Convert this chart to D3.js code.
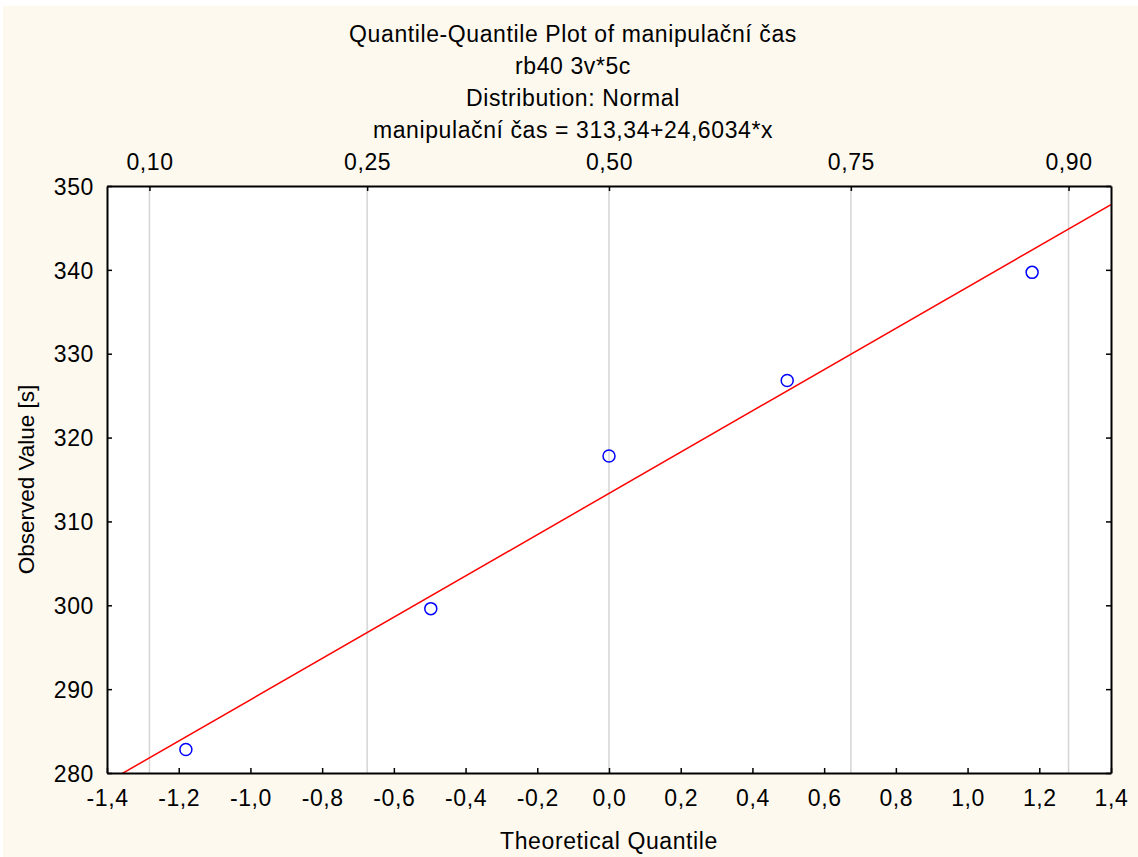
<!DOCTYPE html>
<html>
<head>
<meta charset="utf-8">
<script src="https://cdn.jsdelivr.net/npm/d3@7"></script>
<style>
  html, body { margin: 0; padding: 0; background: #fff; }
  svg { display: block; font-family: "Liberation Sans", Arial, sans-serif; }
</style>
</head>
<body>
<svg id="chart" width="1138" height="857"></svg>
<script>
// data
const titleLines = [
  "Quantile-Quantile Plot of manipulační čas",
  "rb40 3v*5c",
  "Distribution: Normal",
  "manipulační čas = 313,34+24,6034*x"
];
const theoretical = [-1.18, -0.497, 0, 0.497, 1.18];
const observed = [282.8, 299.6, 317.8, 326.8, 339.7];
const fitIntercept = 313.34;
const fitSlope = 24.6034;
const xTicks = [-1.4, -1.2, -1.0, -0.8, -0.6, -0.4, -0.2, 0.0, 0.2, 0.4, 0.6, 0.8, 1.0, 1.2, 1.4];
const yTicks = [280, 290, 300, 310, 320, 330, 340, 350];
const probTicks = [0.10, 0.25, 0.50, 0.75, 0.90];
const probQuantiles = [-1.2816, -0.6745, 0, 0.6745, 1.2816];

const svg = d3.select('#chart');
const W = 1138, H = 857;
const m = { left: 107, right: 1111, top: 186, bottom: 773 };
// comma decimals, plain hyphen for minus
const fmt = p => d => d3.format(p)(d).replace('.', ',').replace('\u2212', '-');
const fs = '23px';
const ls = '0.6px';

svg.append('rect')
  .attr('x', 3).attr('y', 6)
  .attr('width', W - 3).attr('height', H - 6)
  .attr('fill', '#fdf9ef');

const x = d3.scaleLinear().domain([-1.4, 1.4]).range([m.left, m.right]);
const y = d3.scaleLinear().domain([280, 350]).range([m.bottom, m.top]);

// plot area
svg.append('rect')
  .attr('x', m.left).attr('y', m.top)
  .attr('width', m.right - m.left).attr('height', m.bottom - m.top)
  .attr('fill', '#fff');

// grid at probability quantiles
svg.append('g').selectAll('line')
  .data(probQuantiles)
  .join('line')
  .attr('x1', d => x(d)).attr('x2', d => x(d))
  .attr('y1', m.top).attr('y2', m.bottom)
  .attr('stroke', '#d4d4d4').attr('stroke-width', 1.5);

svg.append('defs').append('clipPath').attr('id', 'clip')
  .append('rect')
  .attr('x', m.left).attr('y', m.top)
  .attr('width', m.right - m.left).attr('height', m.bottom - m.top);

// fitted line
const lineX = x.domain();
svg.append('line')
  .attr('clip-path', 'url(#clip)')
  .attr('x1', x(lineX[0])).attr('y1', y(fitIntercept + fitSlope * lineX[0]))
  .attr('x2', x(lineX[1])).attr('y2', y(fitIntercept + fitSlope * lineX[1]))
  .attr('stroke', '#ff0000').attr('stroke-width', 1.5);

// points
svg.append('g').selectAll('circle')
  .data(theoretical.map((t, i) => [t, observed[i]]))
  .join('circle')
  .attr('cx', d => x(d[0])).attr('cy', d => y(d[1]))
  .attr('r', 6)
  .attr('fill', 'none')
  .attr('stroke', '#0000ff').attr('stroke-width', 1.5);

// axes
const xAxis = d3.axisBottom(x).tickValues(xTicks).tickSizeInner(-5).tickSizeOuter(0)
  .tickPadding(17).tickFormat(fmt('.1f'));
const gx = svg.append('g').attr('transform', `translate(0,${m.bottom})`).call(xAxis);

const yAxis = d3.axisLeft(y).tickValues(yTicks).tickSizeInner(-5).tickSizeOuter(0)
  .tickPadding(13).tickFormat(d3.format('d'));
const gy = svg.append('g').attr('transform', `translate(${m.left},0)`).call(yAxis);

const yAxisR = d3.axisRight(y).tickValues(yTicks).tickSizeInner(-5).tickSizeOuter(0).tickFormat('');
const gyr = svg.append('g').attr('transform', `translate(${m.right},0)`).call(yAxisR);

const topAxis = d3.axisTop(x).tickValues(probQuantiles).tickSizeInner(-5).tickSizeOuter(0)
  .tickPadding(16).tickFormat((d, i) => fmt('.2f')(probTicks[i]));
const gt = svg.append('g').attr('transform', `translate(0,${m.top})`).call(topAxis);

[gx, gy, gyr, gt].forEach(g => {
  g.selectAll('.domain').attr('stroke', '#000').attr('stroke-width', 2);
  g.selectAll('.tick line').attr('stroke', '#000').attr('stroke-width', 1.5);
  g.selectAll('text').attr('fill', '#000').style('font-size', fs)
    .style('letter-spacing', ls)
    .style('font-family', '"Liberation Sans", Arial, sans-serif');
});
gy.selectAll('text').attr('dy', '0.36em');

// titles
svg.append('g').selectAll('text')
  .data(titleLines)
  .join('text')
  .attr('x', 573).attr('y', (d, i) => 42 + i * 32)
  .attr('text-anchor', 'middle')
  .style('font-size', fs).style('letter-spacing', ls)
  .text(d => d);

svg.append('text')
  .attr('x', x(0)).attr('y', 849)
  .attr('text-anchor', 'middle')
  .style('font-size', fs).style('letter-spacing', ls)
  .text('Theoretical Quantile');

svg.append('text')
  .attr('transform', `translate(34,${(m.top + m.bottom) / 2}) rotate(-90)`)
  .attr('text-anchor', 'middle')
  .style('font-size', '22.5px')
  .text('Observed Value [s]');
</script>
</body>
</html>
